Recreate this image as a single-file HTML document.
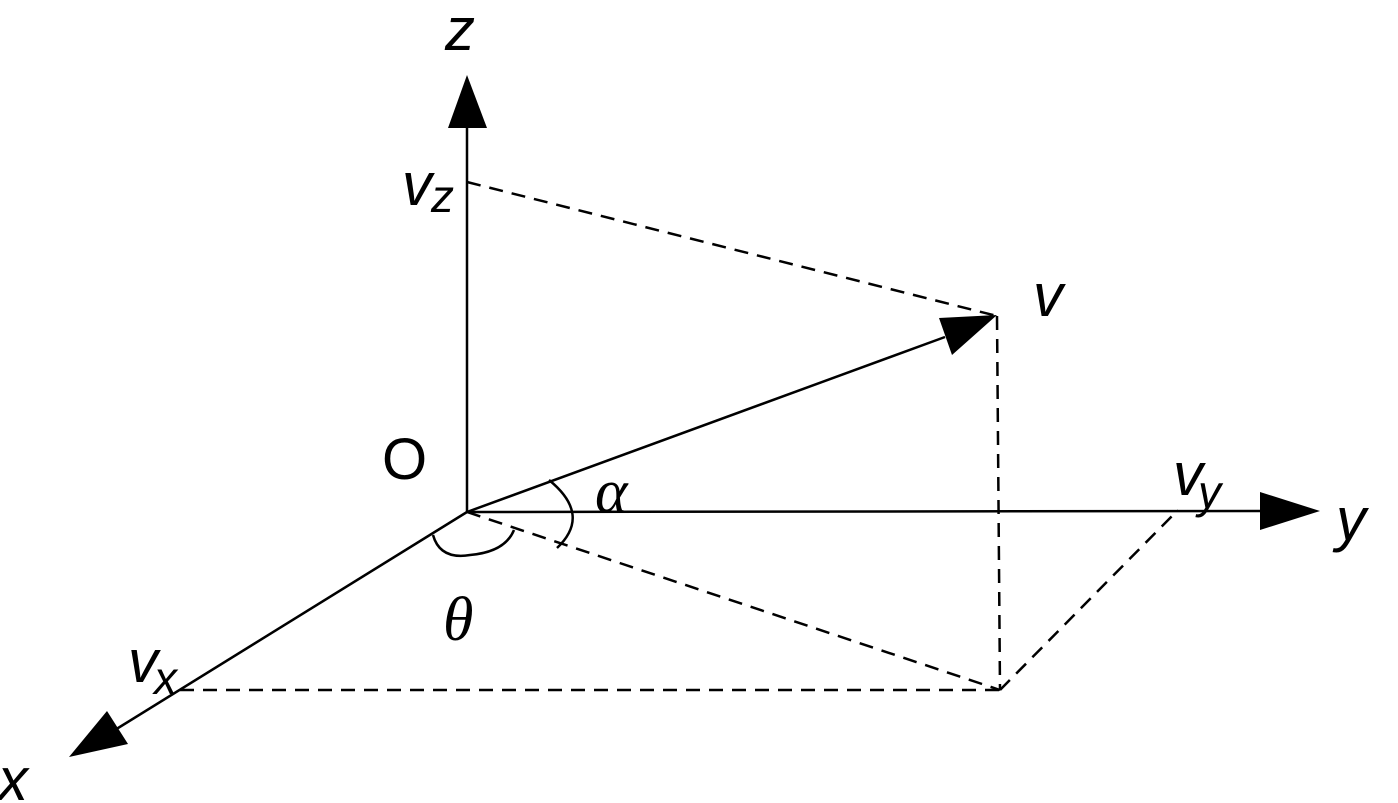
<!DOCTYPE html>
<html><head><style>body{margin:0;background:#fff}svg{display:block}</style></head><body>
<svg width="1398" height="803" viewBox="0 0 1398 803" xmlns="http://www.w3.org/2000/svg">
<g stroke="#000" stroke-width="2.5" fill="none">
<line x1="467" y1="512" x2="467" y2="125"/>
<line x1="467" y1="512" x2="1262" y2="511"/>
<line x1="467" y1="512" x2="110" y2="733"/>
<line x1="467" y1="512" x2="945" y2="337"/>
<g stroke-dasharray="14,9">
<line x1="467" y1="182" x2="997" y2="316"/>
<line x1="997" y1="316" x2="1000" y2="690"/>
<line x1="467" y1="512" x2="1000" y2="690"/>
<line x1="180" y1="690" x2="1000" y2="690"/>
<line x1="1000" y1="690" x2="1178" y2="510"/>
</g>
<path d="M549,480 Q592,515 557,548"/>
<path d="M433,535 Q440,560 470,555 Q505,552 514,530"/>
</g>
<g fill="#000">
<polygon points="467,75 448,128 487,128"/>
<polygon points="1320,511 1260,492 1260,530"/>
<polygon points="69,757 107,711 128,744"/>
<polygon points="997,315 939,318 952,355"/>
</g>
<g font-family="Liberation Sans, sans-serif" font-style="italic" font-size="60">
<text x="445" y="50">z</text>
<text x="402" y="205">v</text><text x="431" y="212" font-size="46">z</text>
<text x="1033" y="316">v</text>
<text x="1173" y="495">v</text><text x="1198" y="508" font-size="46">y</text>
<text x="1336" y="540">y</text>
<text x="128" y="682">v</text><text x="154" y="694" font-size="46">x</text>
<text x="-2" y="800">x</text>
</g>
<text x="382" y="479" font-family="Liberation Sans, sans-serif" font-size="58">O</text>
<g font-family="Liberation Serif, serif" font-style="italic" font-size="62">
<text x="595" y="512">α</text>
<text x="443" y="640">θ</text>
</g>
</svg>
</body></html>
